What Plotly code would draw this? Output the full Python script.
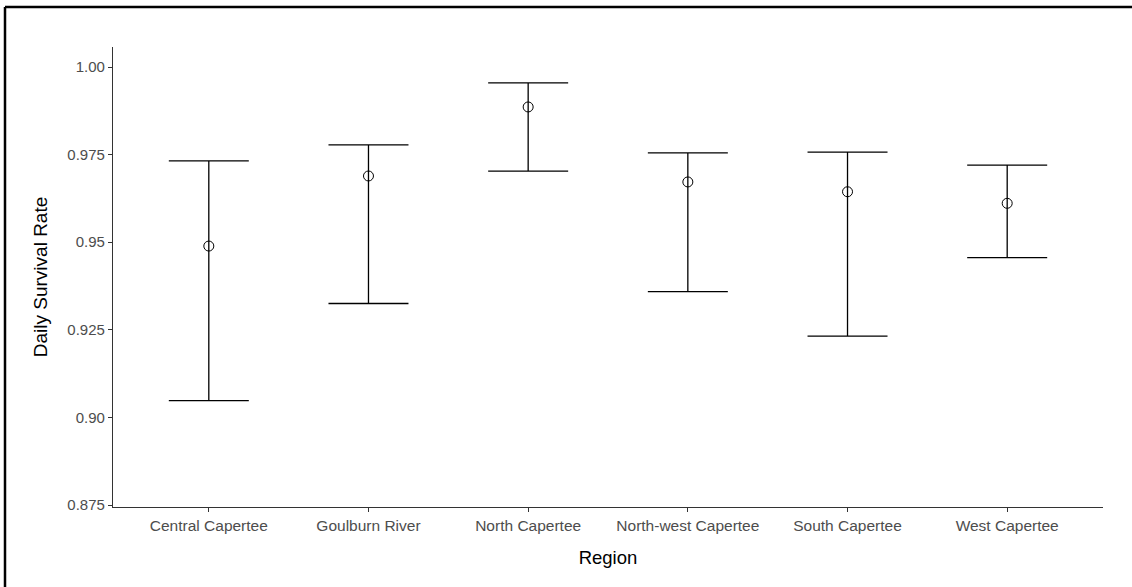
import plotly.graph_objects as go

# Daily survival rate estimates with confidence limits, by region
regions = ["Central Capertee", "Goulburn River", "North Capertee",
           "North-west Capertee", "South Capertee", "West Capertee"]
dsr = [0.9489, 0.9689, 0.9886, 0.9672, 0.9644, 0.9611]
upper = [0.9732, 0.9778, 0.9955, 0.9755, 0.9757, 0.9720]
lower = [0.9048, 0.9325, 0.9703, 0.9359, 0.9232, 0.9456]

y_ticks = [0.875, 0.90, 0.925, 0.95, 0.975, 1.00]
y_tick_text = ["0.875", "0.90", "0.925", "0.95", "0.975", "1.00"]

err_plus = [u - m for u, m in zip(upper, dsr)]
err_minus = [m - l for m, l in zip(dsr, lower)]

W, H = 1132, 587
ML, MR, MT, MB = 113, 29, 47, 80
FONT = "Liberation Sans, Arial, Helvetica, sans-serif"

fig = go.Figure(go.Scatter(
    x=regions, y=dsr, mode="markers",
    marker=dict(symbol="circle-open", size=10, color="black",
                line=dict(width=1, color="black")),
    error_y=dict(type="data", symmetric=False, array=err_plus,
                 arrayminus=err_minus, width=40, thickness=1.3,
                 color="black"),
    showlegend=False, cliponaxis=False,
))

axis_common = dict(
    showline=True, linecolor="#333333", linewidth=1.2,
    ticks="outside", ticklen=4, tickwidth=1.1, tickcolor="#333333",
    showgrid=False, zeroline=False,
)

fig.update_xaxes(
    range=[-0.6, 5.6], type="category",
    tickfont=dict(family=FONT, size=15.5, color="#4d4d4d"),
    title=dict(text="Region", font=dict(family=FONT, size=18.5, color="black"),
               standoff=18),
    **axis_common,
)
fig.update_yaxes(
    range=[0.87443, 1.00571], tickvals=y_ticks, ticktext=y_tick_text,
    tickfont=dict(family=FONT, size=15, color="#4d4d4d"),
    title=dict(text="Daily Survival Rate",
               font=dict(family=FONT, size=19, color="black"), standoff=14),
    **axis_common,
)

# Outer frame around the figure (left and top edges fall inside the page)
pw, ph = W - ML - MR, H - MT - MB
def px_to_paper_x(px):
    return (px - ML) / pw
def py_to_paper_y(py):
    return (H - MB - py) / ph

frame_left, frame_top = 5, 7
fig.add_shape(type="line", xref="paper", yref="paper",
              x0=px_to_paper_x(frame_left), x1=px_to_paper_x(W + 10),
              y0=py_to_paper_y(frame_top), y1=py_to_paper_y(frame_top),
              line=dict(color="black", width=2.5))
fig.add_shape(type="line", xref="paper", yref="paper",
              x0=px_to_paper_x(frame_left), x1=px_to_paper_x(frame_left),
              y0=py_to_paper_y(frame_top), y1=py_to_paper_y(H + 10),
              line=dict(color="black", width=2.5))

fig.update_layout(
    width=W, height=H,
    margin=dict(l=ML, r=MR, t=MT, b=MB),
    paper_bgcolor="white", plot_bgcolor="white",
    font=dict(family=FONT),
)

fig.write_html("out.html")
